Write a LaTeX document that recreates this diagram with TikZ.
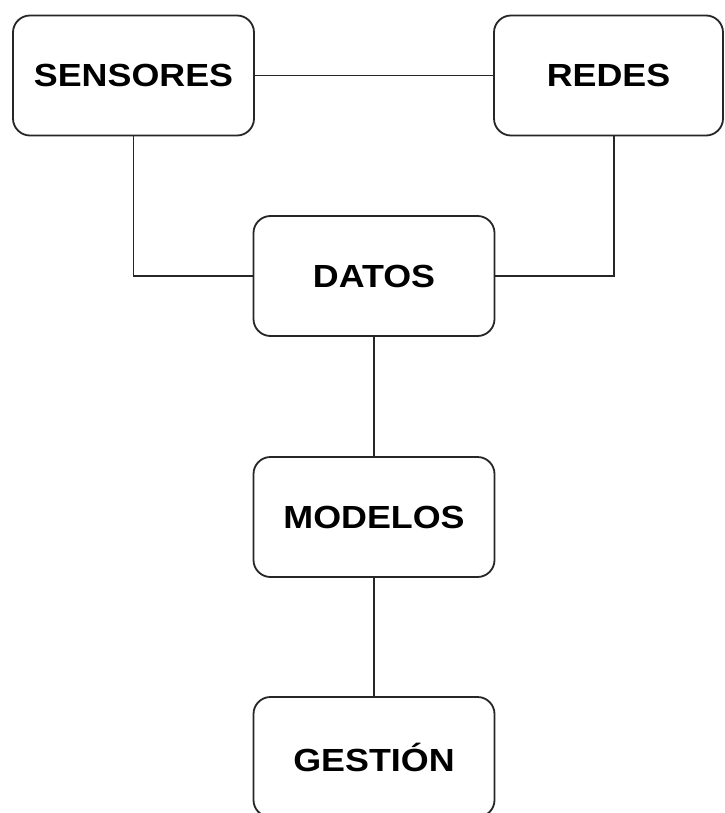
\documentclass[tikz,border=0pt]{standalone}
\usepackage{fontspec}
\setmainfont{Liberation Sans}[FakeStretch=1.12]
\begin{document}
\begin{tikzpicture}[x=1pt,y=-1pt,
  box/.style={draw=black!85, line width=1.8pt, rounded corners=17pt,
    rectangle, minimum height=120pt, inner sep=0pt,
    font=\fontsize{32}{36}\selectfont\bfseries},
  link/.style={draw=black!85, line width=1.8pt}]
  \clip (0,0) rectangle (724,813);
  \fill[white] (0,0) rectangle (724,813);

  % top row
  \node[box, minimum width=241pt] (sens) at (133.5,75.5) {SENSORES};
  \node[box, minimum width=229pt] (red)  at (608.5,75.5) {REDES};

  % central column
  \node[box, minimum width=241pt] (dat) at (374,276) {DATOS};
  \node[box, minimum width=241pt] (mod) at (374,517) {MODELOS};
  \node[box, minimum width=241pt] (ges) at (374,757) {GESTIÓN};

  % connectors
  \draw[link] (sens.east) -- (red.west);
  \draw[link] (sens.south) |- (dat.west);
  \draw[link] ([xshift=5.5pt]red.south) |- (dat.east);
  \draw[link] (dat.south) -- (mod.north);
  \draw[link] (mod.south) -- (ges.north);
\end{tikzpicture}
\end{document}
